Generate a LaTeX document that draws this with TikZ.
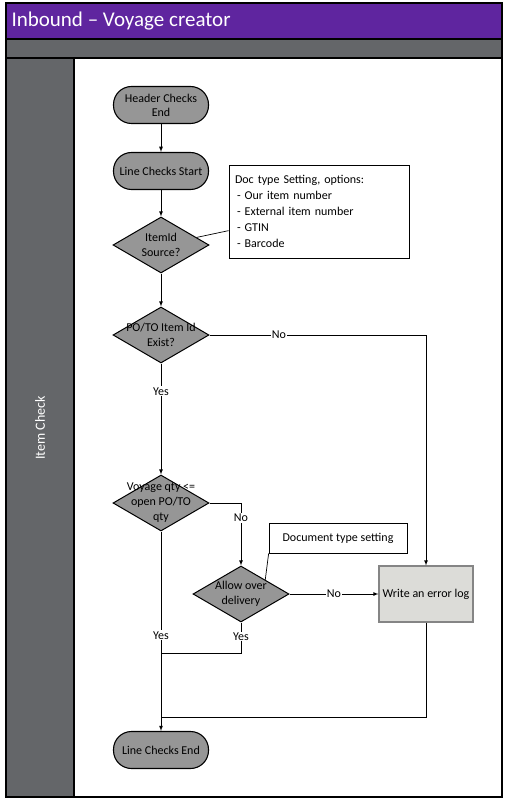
\documentclass[tikz,border=0pt]{standalone}
\usepackage{fontspec}
\setmainfont{Carlito}
\usetikzlibrary{shapes.geometric}
\definecolor{lanepurple}{HTML}{5F259F}
\definecolor{lanegray}{HTML}{646669}
\definecolor{stepgray}{HTML}{969696}
\definecolor{logfill}{HTML}{DCDCD8}
\definecolor{logborder}{HTML}{858585}

\begin{document}
\begin{tikzpicture}[x=1pt,y=-1pt,
	terminal/.style={shape=rectangle,rounded corners=18pt,draw=black,line width=1.1pt,fill=stepgray,minimum width=95pt,minimum height=37pt,align=center,inner sep=1pt,font=\fontsize{12}{14}\selectfont},
	decision/.style={shape=diamond,draw=black,line width=1pt,fill=stepgray,minimum width=96pt,minimum height=56pt,inner sep=0pt},
	dtext/.style={align=center,font=\fontsize{12}{14.5}\selectfont},
	notebox/.style={shape=rectangle,draw=black,line width=0.7pt,fill=white,align=left,font=\fontsize{12}{16}\selectfont},
	lbl/.style={fill=white,inner sep=1pt,font=\fontsize{12}{14}\selectfont}]
	\useasboundingbox (0,0) rectangle (504,799);

	% lanes
	\fill[white] (6,3) rectangle (502,797);
	\fill[lanepurple] (6,3) rectangle (502,39);
	\fill[lanegray] (6,39) rectangle (502,58);
	\fill[lanegray] (6,58) rectangle (74,797);
	\draw[line width=1.2pt] (6,39) -- (502,39);
	\draw[line width=1.2pt] (6,58) -- (502,58);
	\draw[line width=1.2pt] (74,58) -- (74,797);
	\draw[line width=1.5pt] (6,3) rectangle (502,797);
	\node[anchor=west,text=white,font=\fontsize{21}{24}\selectfont] (title) at (8,21) {Inbound -- Voyage creator};
	\node[rotate=90,text=white,font=\fontsize{14}{16}\selectfont] (lane) at (40,428) {Item Check};

	% steps
	\node[terminal] (hdrend) at (161,105) {Header Checks\\End};
	\node[terminal] (start) at (161,171) {Line Checks Start};
	\node[decision,label={[dtext]center:ItemId\\Source?}] (source) at (161,245) {};
	\node[decision,label={[dtext]center:PO/TO Item Id\\Exist?}] (exist) at (161,335) {};
	\node[decision,label={[dtext,font=\fontsize{12}{15}\selectfont]center:Voyage qty <=\\open PO/TO\\qty}] (qty) at (161,503) {};
	\node[decision,label={[dtext]center:Allow over\\delivery}] (allow) at (241,594) {};
	\node[shape=rectangle,draw=logborder,line width=1.1pt,fill=logfill,minimum width=94pt,minimum height=56pt,inner sep=1pt,font=\fontsize{12}{14}\selectfont] (errlog) at (426,594) {Write an error log};
	\node[terminal] (end) at (161,750) {Line Checks End};

	% notes
	\node[notebox,text width=168pt,minimum height=93pt,inner xsep=6pt] (srcnote) at (319,211.5) {Doc type Setting, options:\\ \,- Our item number\\ \,- External item number\\ \,- GTIN\\ \,- Barcode};
	\node[notebox,minimum width=138pt,minimum height=30pt] (dtnote) at (338,538) {Document type setting};

	\coordinate (yesjoin) at (161,653);
	\coordinate (errjoin) at (161,717);

	\path[->,>=latex,line width=0.8pt] (hdrend) edge (start);
	\path[->,>=latex,line width=0.8pt] (start) edge (source);
	\path[->,>=latex,line width=0.8pt] (source) edge (exist);
	\path[->,>=latex,line width=0.8pt] (exist) edge node[lbl,pos=0.25]{Yes} (qty);
	\path[->,>=latex,line width=0.8pt] (qty) edge node[lbl,pos=0.52]{Yes} (end);
	\path[->,>=latex,line width=0.8pt] (allow) edge node[lbl]{No} (errlog);
	\draw[->,>=latex,line width=0.8pt] (exist) -| node[lbl,pos=0.16]{No} (errlog);
	\draw[->,>=latex,line width=0.8pt] (qty) -| node[lbl,pos=0.62]{No} (allow);
	\draw[line width=0.8pt] (allow) |- node[lbl,pos=0.23]{Yes} (yesjoin);
	\draw[line width=0.8pt] (errlog) |- (errjoin);
	\draw[line width=0.7pt] (source) -- (srcnote);
	\draw[line width=0.7pt] (allow.north east) -- (dtnote.south west);
\end{tikzpicture}
\end{document}
